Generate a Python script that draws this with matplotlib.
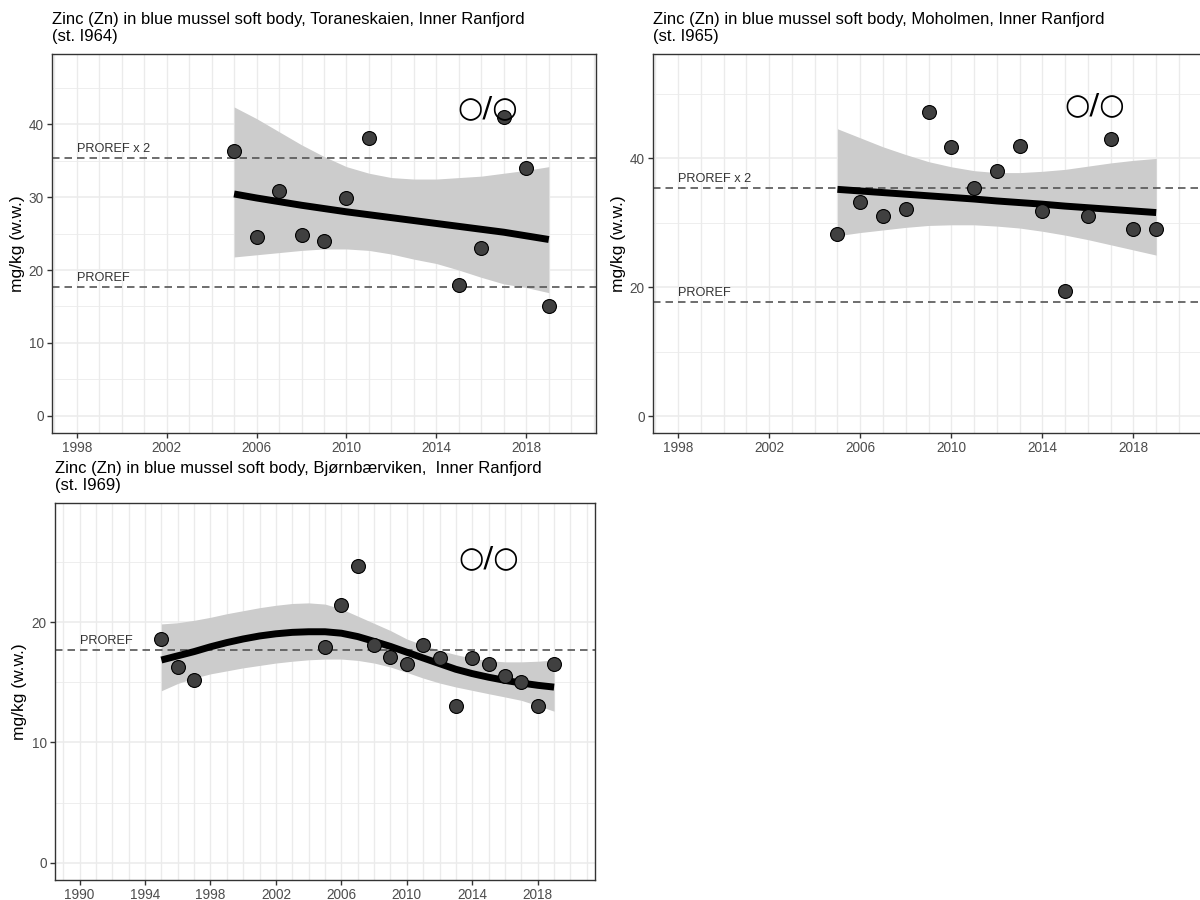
import matplotlib
matplotlib.use("Agg")
import matplotlib.pyplot as plt
import numpy as np

plt.rcParams['font.family'] = ['Liberation Sans', 'DejaVu Sans']

# ---------------- data ----------------
PROREF = 17.7

# Panel 1: Toraneskaien (st. I964)
p1_title = "Zinc (Zn) in blue mussel soft body, Toraneskaien, Inner Ranfjord\n(st. I964)"
p1_years = [2005, 2006, 2007, 2008, 2009, 2010, 2011, 2015, 2016, 2017, 2018, 2019]
p1_values = [36.3, 24.6, 30.8, 24.8, 24.0, 29.9, 38.1, 18.0, 23.0, 41.0, 34.0, 15.0]
p1_fit_years = [2005, 2006, 2007, 2008, 2009, 2010, 2011, 2012, 2013, 2014, 2015, 2016, 2017, 2018, 2019]
p1_fit = [30.45, 29.9, 29.4, 28.9, 28.45, 28.0, 27.6, 27.2, 26.8, 26.4, 26.0, 25.6, 25.2, 24.7, 24.2]
p1_upper = [42.4, 40.8, 39.0, 37.2, 35.6, 34.2, 33.3, 32.7, 32.5, 32.5, 32.7, 32.9, 33.3, 33.7, 34.2]
p1_lower = [21.8, 22.1, 22.4, 22.7, 22.9, 22.9, 22.7, 22.2, 21.5, 20.9, 20.0, 19.0, 18.1, 17.6, 16.9]

# Panel 2: Moholmen (st. I965)
p2_title = "Zinc (Zn) in blue mussel soft body, Moholmen, Inner Ranfjord\n(st. I965)"
p2_years = [2005, 2006, 2007, 2008, 2009, 2010, 2011, 2012, 2013, 2014, 2015, 2016, 2017, 2018, 2019]
p2_values = [28.2, 33.2, 31.1, 32.1, 47.2, 41.8, 35.4, 38.0, 42.0, 31.9, 19.4, 31.0, 43.0, 29.0, 29.0]
p2_fit_years = [2005, 2006, 2007, 2008, 2009, 2010, 2011, 2012, 2013, 2014, 2015, 2016, 2017, 2018, 2019]
p2_fit = [35.2, 34.95, 34.7, 34.45, 34.2, 33.95, 33.7, 33.4, 33.15, 32.9, 32.6, 32.35, 32.1, 31.85, 31.6]
p2_upper = [44.6, 43.2, 41.8, 40.6, 39.5, 38.7, 38.1, 37.8, 37.8, 38.0, 38.3, 38.8, 39.3, 39.7, 40.0]
p2_lower = [28.0, 28.5, 28.9, 29.3, 29.6, 29.7, 29.7, 29.5, 29.2, 28.7, 28.1, 27.4, 26.6, 25.8, 25.0]

# Panel 3: Bjørnbærviken (st. I969)
p3_title = "Zinc (Zn) in blue mussel soft body, Bjørnbærviken,  Inner Ranfjord\n(st. I969)"
p3_years = [1995, 1996, 1997, 2005, 2006, 2007, 2008, 2009, 2010, 2011, 2012, 2013, 2014, 2015, 2016, 2017, 2018, 2019]
p3_values = [18.6, 16.3, 15.2, 17.9, 21.4, 24.7, 18.1, 17.1, 16.5, 18.1, 17.0, 13.0, 17.0, 16.5, 15.5, 15.0, 13.0, 16.5]
p3_fit_years = [1995, 1996, 1997, 1998, 1999, 2000, 2001, 2002, 2003, 2004, 2005, 2006, 2007,
                2008, 2009, 2010, 2011, 2012, 2013, 2014, 2015, 2016, 2017, 2018, 2019]
p3_fit = [16.85, 17.2, 17.55, 17.95, 18.3, 18.6, 18.85, 19.03, 19.15, 19.2, 19.2, 19.08, 18.8,
          18.4, 17.98, 17.5, 17.02, 16.55, 16.08, 15.72, 15.42, 15.16, 14.94, 14.75, 14.6]
p3_upper = [19.85, 19.95, 20.15, 20.4, 20.7, 20.95, 21.2, 21.4, 21.55, 21.6, 21.5, 21.1, 20.5,
            19.9, 19.3, 18.6, 18.1, 17.65, 17.3, 17.0, 16.8, 16.7, 16.7, 16.75, 16.85]
p3_lower = [14.3, 14.9, 15.35, 15.7, 15.95, 16.2, 16.4, 16.6, 16.75, 16.87, 16.93, 16.93, 16.82,
            16.6, 16.27, 15.82, 15.35, 14.94, 14.61, 14.33, 14.05, 13.78, 13.5, 13.06, 12.6]

ylabel = "mg/kg (w.w.)"
trend_symbol = "○/○"

# ---------------- figure ----------------
fig = plt.figure(figsize=(12, 9), dpi=100)

GRID = "#EBEBEB"
BORDER = "#333333"
TICKLAB = "#4D4D4D"


def draw_panel(rect, title, years, values, fit_years, fit, lower, upper,
               xlim, ylim, xticks, yticks, ygrid, show_x2, sym_xy, ylab_x):
    ax = fig.add_axes(rect)
    ax.set_xlim(*xlim)
    ax.set_ylim(*ylim)
    # gridlines
    for yr in range(int(np.ceil(xlim[0])), int(np.floor(xlim[1])) + 1):
        ax.axvline(yr, color=GRID, lw=1.0, zorder=0)
    for g in ygrid:
        lw = 1.1 if g in yticks else 0.6
        ax.axhline(g, color=GRID, lw=lw, zorder=0)
    # confidence band
    ax.fill_between(fit_years, lower, upper, color="#CCCCCC", lw=0, zorder=1)
    # reference lines
    ax.axhline(PROREF, color="#555555", lw=1.2, ls=(0, (4.5, 3)), zorder=2)
    ax.annotate("PROREF", xy=(xticks[0], PROREF), xytext=(0, 2), textcoords="offset points",
                ha="left", va="bottom", fontsize=9.2, color="#333333", zorder=3)
    if show_x2:
        ax.axhline(2 * PROREF, color="#555555", lw=1.2, ls=(0, (4.5, 3)), zorder=2)
        ax.annotate("PROREF x 2", xy=(xticks[0], 2 * PROREF), xytext=(0, 2),
                    textcoords="offset points", ha="left", va="bottom",
                    fontsize=9.2, color="#333333", zorder=3)
    # trend
    ax.plot(fit_years, fit, color="black", lw=5, solid_capstyle="butt", zorder=4)
    # points
    ax.plot(years, values, "o", ms=10, mfc="#404040", mec="black", mew=0.8, zorder=5)
    # trend symbol
    ax.text(sym_xy[0], sym_xy[1], trend_symbol, ha="center", va="center",
            fontsize=21, family=["DejaVu Sans"], color="black", zorder=6)
    ax.set_xticks(xticks)
    ax.set_yticks(yticks)
    ax.tick_params(axis="both", colors=BORDER, labelcolor=TICKLAB, labelsize=9.8,
                   length=3.5, width=1.0, pad=2.5)
    for s in ax.spines.values():
        s.set_color(BORDER)
        s.set_linewidth(1.0)
    ax.set_ylabel(ylabel, fontsize=12.5, color="black")
    ax.yaxis.set_label_coords(ylab_x, 0.5)
    ax.annotate(title, xy=(0, 1), xycoords="axes fraction", xytext=(0, 7),
                textcoords="offset points", ha="left", va="bottom",
                fontsize=12, color="black", linespacing=1.2)
    return ax


draw_panel([52 / 1200, 1 - 433 / 900, 544 / 1200, 379 / 900], p1_title,
           p1_years, p1_values, p1_fit_years, p1_fit, p1_lower, p1_upper,
           (1996.9, 2021.1), (-2.37, 49.67), list(range(1998, 2019, 4)),
           [0, 10, 20, 30, 40], list(range(0, 50, 5)), True, (2016.3, 42.3), -0.05)

draw_panel([653 / 1200, 1 - 433 / 900, 551 / 1200, 379 / 900], p2_title,
           p2_years, p2_values, p2_fit_years, p2_fit, p2_lower, p2_upper,
           (1996.9, 2021.1), (-2.6, 56.2), list(range(1998, 2019, 4)),
           [0, 20, 40], list(range(0, 60, 10)), True, (2016.3, 48.2), -0.049)

draw_panel([55 / 1200, 1 - 880 / 900, 540 / 1200, 377 / 900], p3_title,
           p3_years, p3_values, p3_fit_years, p3_fit, p3_lower, p3_upper,
           (1988.5, 2021.5), (-1.43, 29.9), list(range(1990, 2019, 4)),
           [0, 10, 20], list(range(0, 30, 5)), False, (2015.0, 25.3), -0.052)

fig.savefig("out.png", dpi=100)
